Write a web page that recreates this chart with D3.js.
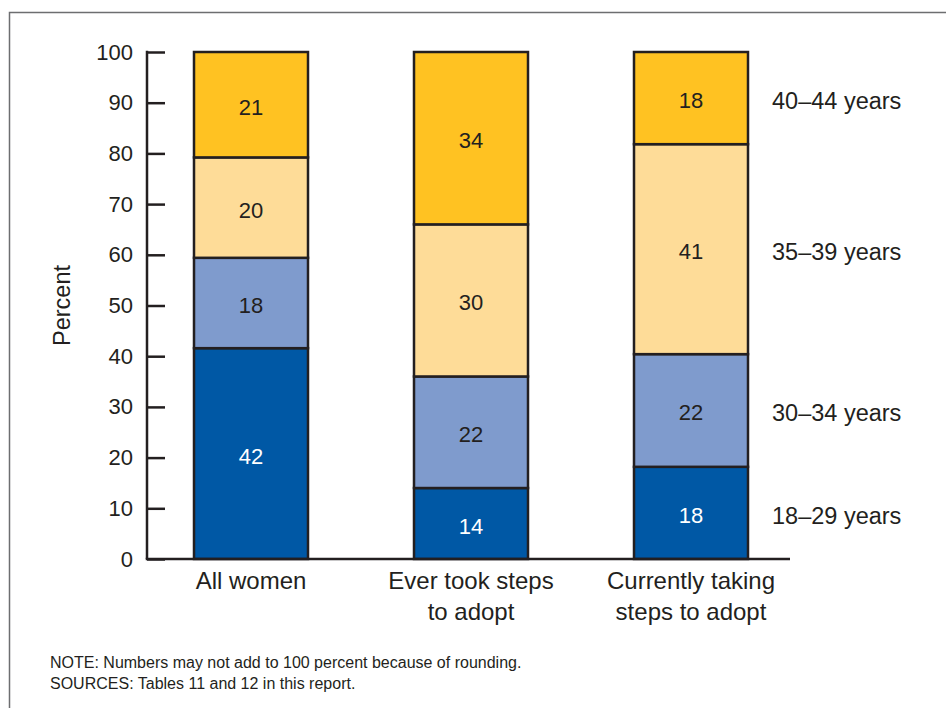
<!DOCTYPE html>
<html>
<head>
<meta charset="utf-8">
<script src="https://cdn.jsdelivr.net/npm/d3@7"></script>
<style>
  body { margin: 0; background: #fff; }
  svg text { font-family: "Liberation Sans", Arial, Helvetica, sans-serif; fill: #231f20; }
</style>
</head>
<body>
<div id="chart"></div>
<script>
// groups along the x axis
var groups = ["All women", "Ever took steps to adopt", "Currently taking steps to adopt"];
var group_lines = [["All women"], ["Ever took steps", "to adopt"], ["Currently taking", "steps to adopt"]];

// age groups, bottom to top
var ages = ["18–29 years", "30–34 years", "35–39 years", "40–44 years"];

// percent for each age group, in the same order as groups
var age_18_29 = [42, 14, 18];
var age_30_34 = [18, 22, 22];
var age_35_39 = [20, 30, 41];
var age_40_44 = [21, 34, 18];

var y_ticks = [0, 10, 20, 30, 40, 50, 60, 70, 80, 90, 100];

var colors = ["#0058a5", "#7f9bcd", "#fedc98", "#ffc222"];
var ink = "#231f20";

var W = 946, H = 708;
var margin = {top: 52, left: 147, bottom: 149};
var plot_h = H - margin.top - margin.bottom;  // 0 at y=559

var rows = groups.map(function(g, i) {
  return {group: g, a0: age_18_29[i], a1: age_30_34[i], a2: age_35_39[i], a3: age_40_44[i]};
});
var keys = ["a0", "a1", "a2", "a3"];

// rounded shares don't add to 100, so each bar is expanded to the full height
var series = d3.stack().keys(keys).offset(d3.stackOffsetExpand)(rows);

var svg = d3.select("#chart").append("svg")
  .attr("width", W)
  .attr("height", H);

// frame (runs off the right and bottom of the page)
svg.append("rect")
  .attr("x", 9.5).attr("y", 12.5)
  .attr("width", 1000).attr("height", 1000)
  .attr("fill", "none")
  .attr("stroke", "#6d6e70")
  .attr("stroke-width", 1.5);

var x = d3.scalePoint().domain(groups).range([251, 691]);
var bar_w = 114;

var y = d3.scaleLinear()
  .domain([0, 1])
  .range([margin.top + plot_h, margin.top]);

var layer = svg.selectAll("g.layer")
  .data(series)
  .enter().append("g")
  .attr("class", "layer");

function seg(s, si) {
  return s.map(function(d) { d.si = si; d.key = s.key; return d; });
}

layer.selectAll("rect")
  .data(seg)
  .enter().append("rect")
  .attr("x", function(d) { return x(d.data.group) - bar_w / 2; })
  .attr("y", function(d) { return y(d[1]); })
  .attr("width", bar_w)
  .attr("height", function(d) { return y(d[0]) - y(d[1]); })
  .attr("fill", function(d) { return colors[d.si]; })
  .attr("stroke", ink)
  .attr("stroke-width", 2.5);

layer.selectAll("text")
  .data(seg)
  .enter().append("text")
  .attr("x", function(d) { return x(d.data.group); })
  .attr("y", function(d) { return (y(d[0]) + y(d[1])) / 2 + 10; })
  .attr("text-anchor", "middle")
  .style("font-size", "22px")
  .style("fill", function(d) { return d.si == 0 ? "#fff" : ink; })
  .text(function(d) { return d.data[d.key]; });

// y axis: ticks point into the plot
var yAxis = d3.axisRight(y)
  .tickValues(y_ticks.map(function(t) { return t / 100; }))
  .tickSize(18)
  .tickFormat(function(d) { return Math.round(d * 100); });

var gy = svg.append("g")
  .attr("transform", "translate(" + margin.left + ",0)")
  .call(yAxis);
gy.select(".domain").remove();
gy.selectAll(".tick line").attr("stroke", ink).attr("stroke-width", 2.5);
gy.selectAll(".tick text")
  .attr("x", -14)
  .attr("text-anchor", "end")
  .style("font-size", "22px")
  .style("font-family", "'Liberation Sans', Arial, sans-serif")
  .attr("fill", ink);

svg.append("line")
  .attr("x1", margin.left).attr("x2", margin.left)
  .attr("y1", y(1) - 1.25).attr("y2", y(0))
  .attr("stroke", ink).attr("stroke-width", 2.5);

svg.append("line")
  .attr("x1", margin.left - 1.25).attr("x2", 790)
  .attr("y1", y(0)).attr("y2", y(0))
  .attr("stroke", ink).attr("stroke-width", 2.5);

svg.append("text")
  .attr("transform", "translate(70," + y(0.5) + ") rotate(-90)")
  .attr("text-anchor", "middle")
  .style("font-size", "23.5px")
  .text("Percent");

// group labels
svg.selectAll("text.grp")
  .data(group_lines)
  .enter().append("text")
  .attr("class", "grp")
  .attr("x", function(d, i) { return x(groups[i]); })
  .attr("y", 589)
  .attr("text-anchor", "middle")
  .style("font-size", "24px")
  .selectAll("tspan")
  .data(function(d) { return d; })
  .enter().append("tspan")
  .attr("x", function() { return d3.select(this.parentNode).attr("x"); })
  .attr("dy", function(d, i) { return i == 0 ? 0 : 31; })
  .text(function(d) { return d; });

// age labels beside the last bar
var last = series.map(function(s) { return s[s.length - 1]; });
svg.selectAll("text.age")
  .data(last)
  .enter().append("text")
  .attr("class", "age")
  .attr("x", 772)
  .attr("y", function(d) { return (y(d[0]) + y(d[1])) / 2 + 11; })
  .style("font-size", "23.5px")
  .text(function(d, i) { return ages[i]; });

svg.append("text")
  .attr("x", 50).attr("y", 668)
  .style("font-size", "16px")
  .text("NOTE: Numbers may not add to 100 percent because of rounding.");
svg.append("text")
  .attr("x", 50).attr("y", 689)
  .style("font-size", "16px")
  .text("SOURCES: Tables 11 and 12 in this report.");
</script>
</body>
</html>
